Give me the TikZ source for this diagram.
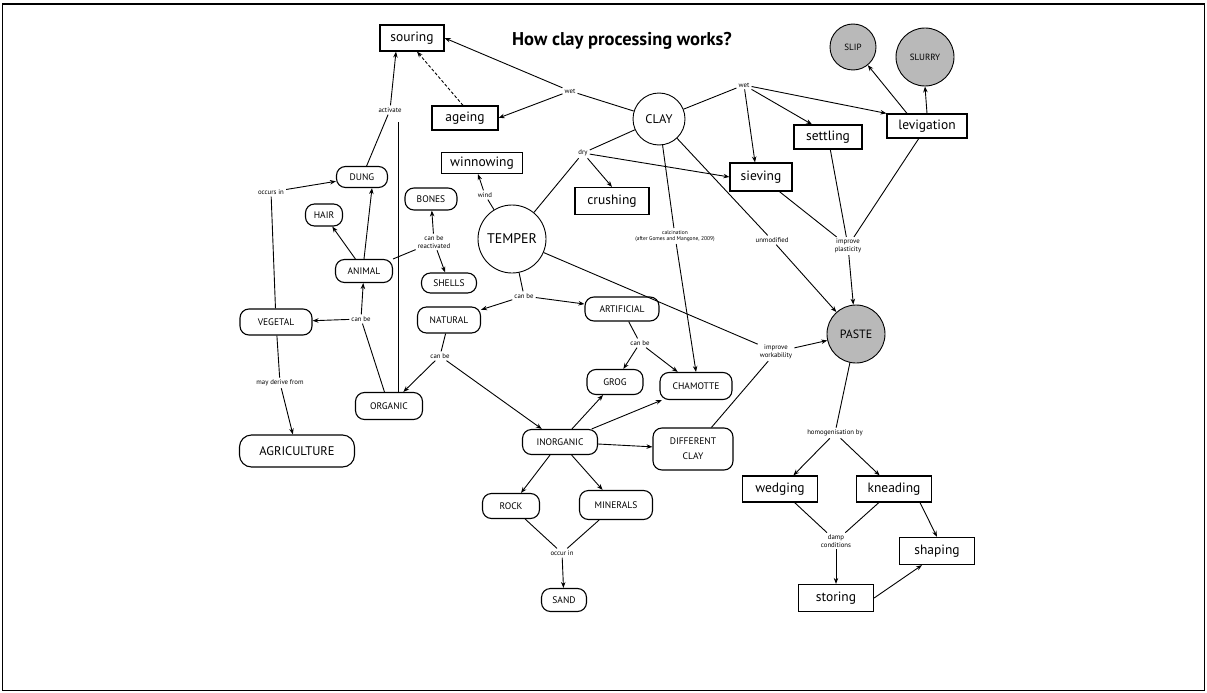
\documentclass[tikz,border=0pt]{standalone}
\usepackage{fontspec}
\setmainfont{PT Sans}
\usetikzlibrary{arrows.meta}
\begin{document}
\begin{tikzpicture}[x=1pt,y=-1pt,
  box/.style={draw,line width=1.2pt,font=\fontsize{13.5}{13.5}\selectfont,inner sep=2pt},
  pill/.style={draw,line width=1.1pt,rounded corners=9pt,font=\fontsize{9.5}{10}\selectfont,inner sep=2pt,align=center},
  circ/.style={draw,circle,line width=0.9pt,inner sep=1pt},
  lab/.style={font=\fontsize{6.8}{7.5}\selectfont,inner sep=2pt,align=center},
  con/.style={line width=0.9pt},
  arr/.style={line width=0.9pt,-{Stealth[length=6pt,width=4.5pt]}},
]
\useasboundingbox (0,0) rectangle (1207,693);
\draw[line width=1.5pt] (2.5,4) rectangle (1204.5,690.5);
\draw[line width=2.5pt] (2.5,4) -- (1204.5,4);

\node[font=\bfseries\fontsize{18.5}{18.5}\selectfont] (title) at (622,41) {How clay processing works?};

% boxes
\node[box,minimum width=64pt,minimum height=26pt] (souring) at (412,38) {souring};
\node[box,minimum width=66pt,minimum height=24pt] (ageing) at (465,118) {ageing};
\node[box,minimum width=81pt,minimum height=21pt] (winnowing) at (482,163) {winnowing};
\node[box,minimum width=74pt,minimum height=27pt] (crushing) at (612,201) {crushing};
\node[box,minimum width=62pt,minimum height=28pt] (sieving) at (761,177) {sieving};
\node[box,minimum width=68pt,minimum height=24pt] (settling) at (828,137) {settling};
\node[box,minimum width=80pt,minimum height=24pt] (levigation) at (927,126) {levigation};
\node[box,minimum width=75pt,minimum height=26pt] (wedging) at (780,489) {wedging};
\node[box,minimum width=75pt,minimum height=26pt] (kneading) at (894,489) {kneading};
\node[box,minimum width=75pt,minimum height=27pt] (shaping) at (937,551) {shaping};
\node[box,minimum width=75pt,minimum height=27pt] (storing) at (836,598) {storing};

% circles
\node[circ,minimum size=52pt,font=\fontsize{12.5}{12.5}\selectfont] (clay) at (659,119) {CLAY};
\node[circ,minimum size=68pt,font=\fontsize{14}{14}\selectfont] (temper) at (512,239) {TEMPER};
\node[circ,fill=gray!55,minimum size=46pt,font=\fontsize{9}{9}\selectfont] (slip) at (853,47) {SLIP};
\node[circ,fill=gray!55,minimum size=58pt,font=\fontsize{9}{9}\selectfont] (slurry) at (925,57) {SLURRY};
\node[circ,fill=gray!55,minimum size=58pt,font=\fontsize{12}{12}\selectfont] (paste) at (856,334) {PASTE};

% pills
\node[pill,minimum width=51pt,minimum height=21pt] (dung) at (362,177) {DUNG};
\node[pill,minimum width=37pt,minimum height=22pt] (hair) at (324,215) {HAIR};
\node[pill,minimum width=52pt,minimum height=22pt] (bones) at (431,199) {BONES};
\node[pill,minimum width=55pt,minimum height=20pt] (shells) at (449,283) {SHELLS};
\node[pill,minimum width=57pt,minimum height=23pt] (animal) at (364,271) {ANIMAL};
\node[pill,minimum width=72pt,minimum height=26pt] (vegetal) at (276,322) {VEGETAL};
\node[pill,minimum width=115pt,minimum height=32pt,rounded corners=12pt,font=\fontsize{12.5}{12.5}\selectfont] (agriculture) at (297,451) {AGRICULTURE};
\node[pill,minimum width=67pt,minimum height=27pt] (organic) at (389,406) {ORGANIC};
\node[pill,minimum width=63pt,minimum height=26pt] (natural) at (449,320) {NATURAL};
\node[pill,minimum width=74pt,minimum height=24pt] (artificial) at (622,309) {ARTIFICIAL};
\node[pill,minimum width=56pt,minimum height=25pt] (grog) at (615,382) {GROG};
\node[pill,minimum width=72pt,minimum height=27pt] (chamotte) at (696,386) {CHAMOTTE};
\node[pill,minimum width=75pt,minimum height=25pt] (inorganic) at (560,442) {INORGANIC};
\node[pill,minimum width=80pt,minimum height=42pt,font=\fontsize{9.5}{15}\selectfont] (diffclay) at (693,449) {DIFFERENT\\CLAY};
\node[pill,minimum width=57pt,minimum height=25pt] (rock) at (511,506) {ROCK};
\node[pill,minimum width=73pt,minimum height=29pt] (minerals) at (616,505) {MINERALS};
\node[pill,minimum width=45pt,minimum height=23pt] (sand) at (564,600) {SAND};

% labels
\node[lab] (wetL) at (570,91) {wet};
\node[lab] (wetR) at (744,85) {wet};
\node[lab] (dry) at (583,153) {dry};
\node[lab] (wind) at (485,195) {wind};
\node[lab] (activate) at (390,110) {activate};
\coordinate (actv) at (398,122);
\node[lab] (occurs) at (271,192) {occurs in};
\node[lab] (reactiv) at (434,242) {can be\\reactivated};
\node[lab] (canbeA) at (361,319) {can be};
\node[lab] (derive) at (280,383) {may derive from};
\node[lab] (canbeT) at (524,296) {can be};
\node[lab] (canbeN) at (440,356) {can be};
\node[lab] (canbeR) at (640,343) {can be};
\node[lab] (occur) at (562,553) {occur in};
\node[lab,font=\fontsize{5.5}{6.5}\selectfont] (calc) at (675,236) {calcination\\(after Gomes and Mangone, 2009)};
\node[lab] (unmod) at (772,240) {unmodified};
\node[lab] (plast) at (848,246) {improve\\plasticity};
\node[lab] (work) at (776,352) {improve\\workability};
\node[lab] (homog) at (835,433) {homogenisation by};
\node[lab] (damp) at (836,541) {damp\\conditions};

% connectors
\draw[con] (clay) -- (wetL);
\draw[arr] (wetL) -- (souring.east);
\draw[arr] (wetL) -- (ageing.east);
\draw[arr,densely dashed] ([xshift=-2pt]ageing.north) -- ([xshift=5pt]souring.south);
\draw[con] (clay) -- (wetR);
\draw[arr] (wetR) -- ([xshift=-6pt]sieving.north);
\draw[arr] (wetR) -- ([xshift=-16pt]settling.north);
\draw[arr] (wetR) -- (levigation.north west);
\draw[arr] ([xshift=-20pt]levigation.north) -- (slip);
\draw[arr] (levigation.north) -- (slurry.south);
\draw[con] (clay) -- (dry);
\draw[arr] (dry) -- (crushing.north);
\draw[arr] (dry) -- (sieving.west);
\draw[con] (temper) -- (dry);
\draw[con] (temper) -- (wind);
\draw[arr] (wind) -- ([xshift=-4pt]winnowing.south);
\draw[con] (clay) -- (calc);
\draw[arr] (calc) -- (chamotte.north);
\draw[con] (clay) -- (unmod);
\draw[arr] (unmod) -- (paste);
\draw[con] (sieving) -- (plast);
\draw[con] (settling) -- (plast);
\draw[con] (levigation) -- (plast);
\draw[arr] (plast) -- (paste);
\draw[con] (temper) -- (work);
\draw[arr] (work) -- (paste);
\draw[con] (diffclay) -- (work);
\draw[con] (temper) -- (canbeT);
\draw[arr] (canbeT) -- (natural);
\draw[arr] (canbeT) -- (artificial);
\draw[con] (natural) -- (canbeN);
\draw[arr] (canbeN) -- (organic);
\draw[arr] (canbeN) -- (inorganic);
\draw[con] (artificial) -- (canbeR);
\draw[arr] (canbeR) -- (grog);
\draw[arr] (canbeR) -- (chamotte);
\draw[arr] (inorganic) -- (grog);
\draw[arr] (inorganic) -- (chamotte);
\draw[arr] (inorganic) -- (diffclay);
\draw[arr] (inorganic) -- (rock);
\draw[arr] (inorganic) -- (minerals);
\draw[con] (rock) -- (occur);
\draw[con] (minerals) -- (occur);
\draw[arr] (occur) -- (sand);
\draw[con] (organic) -- (canbeA);
\draw[arr] (canbeA) -- (vegetal);
\draw[arr] (canbeA) -- (animal);
\draw[arr] (animal) -- (hair);
\draw[arr] (animal.north) -- ([xshift=10pt]dung.south);
\draw[con] (animal) -- (reactiv);
\draw[arr] (reactiv) -- (bones);
\draw[arr] (reactiv) -- (shells);
\draw[con] (vegetal) -- (occurs);
\draw[arr] (occurs) -- (dung);
\draw[con] (vegetal) -- (derive);
\draw[arr] (derive) -- (agriculture);
\draw[con] (dung) -- (activate);
\draw[arr] (activate) -- ([xshift=-16pt]souring.south);
\draw[con] (actv |- organic.north) -- (actv);
\draw[con] (paste) -- (homog);
\draw[arr] (homog) -- (wedging);
\draw[arr] (homog) -- (kneading);
\draw[con] (wedging) -- (damp);
\draw[con] (kneading) -- (damp);
\draw[arr] (damp) -- (storing);
\draw[arr] ([xshift=26pt]kneading.south) -- (shaping.north);
\draw[arr] (storing.east) -- ([xshift=-15pt]shaping.south);
\end{tikzpicture}
\end{document}
